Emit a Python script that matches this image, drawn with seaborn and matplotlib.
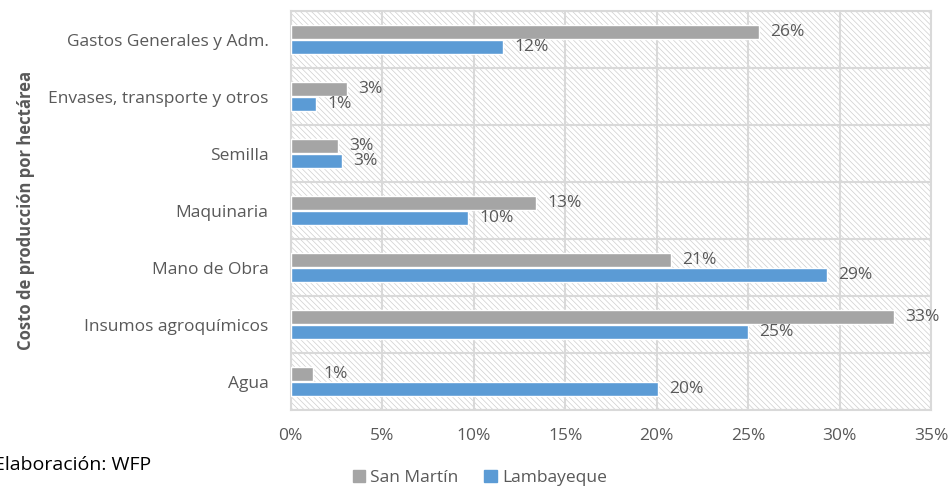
import pandas as pd
import seaborn as sns
import matplotlib
import matplotlib.pyplot as plt
from matplotlib.patches import Rectangle

matplotlib.use("Agg")

# values (share of cost per hectare, %)
categories = ["Gastos Generales y Adm.", "Envases, transporte y otros", "Semilla",
              "Maquinaria", "Mano de Obra", "Insumos agroquímicos", "Agua"]
san_martin = [25.6, 3.1, 2.6, 13.4, 20.8, 33.0, 1.2]
lambayeque = [11.6, 1.4, 2.8, 9.7, 29.3, 25.0, 20.1]
regions = ["San Martín", "Lambayeque"]
colors = ["#a5a5a5", "#5b9bd5"]
x_ticks = [0, 5, 10, 15, 20, 25, 30, 35]

TEXT = "#595959"
GRID = "#d9d9d9"


def get_df():
    rows = []
    for region, vals in zip(regions, [san_martin, lambayeque]):
        for cat, v in zip(categories, vals):
            rows.append({"categoria": cat, "region": region, "valor": v})
    return pd.DataFrame(rows)


def plot_chart(df):
    sns.set_style("white")
    plt.rcParams["font.family"] = ["Open Sans", "DejaVu Sans"]
    plt.rcParams["hatch.linewidth"] = 0.5

    fig = plt.figure(figsize=(9.5, 4.87), dpi=100)
    ax = fig.add_axes([0.306, 0.158, 0.674, 0.819])

    sns.barplot(data=df, y="categoria", x="valor", hue="region", order=categories,
                hue_order=regions, palette=colors, saturation=1, width=0.52, gap=0.06,
                orient="y", ax=ax, legend=False, zorder=3)

    # hatched plot background
    ax.add_patch(Rectangle((0, 0), 1, 1, transform=ax.transAxes, facecolor="white",
                           edgecolor="#cfcfcf", hatch="\\\\\\\\\\\\", lw=0, zorder=0.2))

    for cont in ax.containers:
        ax.bar_label(cont, fmt="{:.0f}%", padding=8, fontsize=12.5, color=TEXT)

    ax.set_xlim(0, 35)
    ax.set_ylim(len(categories) - 0.5, -0.5)
    ax.set_xticks(x_ticks)
    ax.set_xticklabels([f"{t}%" for t in x_ticks])
    ax.set_yticks(range(len(categories)))
    ax.set_yticks([i + 0.5 for i in range(-1, len(categories))], minor=True)
    ax.set_axisbelow(True)
    ax.grid(axis="x", color=GRID, lw=1.5, zorder=0.5)
    ax.grid(axis="y", which="minor", color=GRID, lw=1.5, zorder=0.5)

    ax.tick_params(axis="x", length=0, pad=13, labelsize=12.5, labelcolor=TEXT)
    ax.tick_params(axis="y", which="major", length=0, pad=16, labelsize=12.5,
                   labelcolor=TEXT)
    ax.tick_params(axis="y", which="minor", length=6, width=1.5, color=GRID)

    for side in ax.spines.values():
        side.set_color(GRID)
        side.set_linewidth(1.5)

    ax.set_xlabel("")
    ax.set_ylabel("Costo de producción por hectárea", fontsize=12, fontweight="bold",
                  color=TEXT)
    ax.yaxis.set_label_coords(-0.40, 0.5)

    handles = [Rectangle((0, 0), 1, 1, color=c) for c in colors]
    fig.legend(handles, regions, loc="center", bbox_to_anchor=(0.505, 0.018), ncol=2,
               frameon=False, fontsize=12.5, handlelength=0.7, handleheight=0.7,
               handletextpad=0.3, columnspacing=1.5, labelcolor=TEXT)

    fig.text(-0.006, 0.045, "Elaboración: WFP", fontsize=14, color="black",
             ha="left", va="center")

    fig.savefig("out.png", dpi=100)


def main():
    df = get_df()
    plot_chart(df)


if __name__ == "__main__":
    main()
